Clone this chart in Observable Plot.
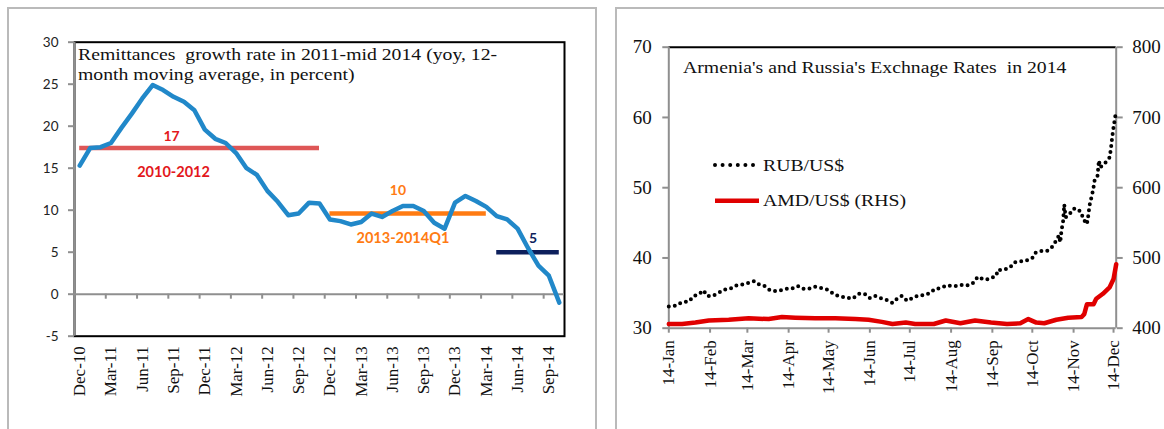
<!DOCTYPE html>
<html><head><meta charset="utf-8">
<script src="https://cdn.jsdelivr.net/npm/d3@7"></script>
<script src="https://cdn.jsdelivr.net/npm/@observablehq/plot@0.6"></script>
<style>
html,body{margin:0;padding:0;background:#fff;}
#root{position:relative;width:1164px;height:429px;overflow:hidden;background:#fff;}
.panel{position:absolute;box-sizing:border-box;border:2px solid #bababa;}
.chart{position:absolute;}
.chart svg{overflow:visible;background:transparent;}
.ttl{position:absolute;font-family:"Liberation Serif","Times New Roman",serif;font-size:17px;line-height:19.3px;color:#111;white-space:nowrap;transform:scaleX(1.16);transform-origin:0 0;}
.lg{position:absolute;}
</style></head>
<body><div id="root">
<div class="panel" style="left:7px;top:7px;width:590px;height:440px"></div>
<div class="panel" style="left:615px;top:7px;width:600px;height:440px"></div>
<div id="left" class="chart" style="left:8px;top:8px"></div>
<div id="right" class="chart" style="left:616px;top:8px"></div>
<div class="ttl" style="left:78px;top:45.3px">Remittances&nbsp; growth rate in 2011-mid 2014 (yoy, 12-<br>month moving average, in percent)</div>
<div class="ttl" style="left:683px;top:58px">Armenia's and Russia's Exchnage Rates&nbsp; in 2014</div>
<svg class="lg" style="left:710px;top:160px" width="50" height="10"><line x1="5" y1="5" x2="44" y2="5" stroke="#000" stroke-width="4" stroke-linecap="round" stroke-dasharray="0 7.6"/></svg>
<div class="ttl" style="left:763px;top:156.3px">RUB/US$</div>
<svg class="lg" style="left:710px;top:195px" width="54" height="12"><line x1="5" y1="5.7" x2="49" y2="5.7" stroke="#e00000" stroke-width="4.5"/></svg>
<div class="ttl" style="left:763px;top:191.3px">AMD/US$ (RHS)</div>
</div>
<script>
// ---------- Left chart data ----------
const months = ["Dec-10","Jan-11","Feb-11","Mar-11","Apr-11","May-11","Jun-11","Jul-11","Aug-11","Sep-11","Oct-11","Nov-11",
  "Dec-11","Jan-12","Feb-12","Mar-12","Apr-12","May-12","Jun-12","Jul-12","Aug-12","Sep-12","Oct-12","Nov-12",
  "Dec-12","Jan-13","Feb-13","Mar-13","Apr-13","May-13","Jun-13","Jul-13","Aug-13","Sep-13","Oct-13","Nov-13",
  "Dec-13","Jan-14","Feb-14","Mar-14","Apr-14","May-14","Jun-14","Jul-14","Aug-14","Sep-14","Oct-14"];
const remittances = [15.3,17.4,17.5,18.0,19.8,21.5,23.3,24.9,24.3,23.5,22.9,21.9,
  19.6,18.5,18.0,16.8,15.0,14.2,12.3,11.0,9.4,9.6,10.9,10.8,
  8.9,8.7,8.3,8.6,9.6,9.2,9.9,10.5,10.5,9.9,8.5,7.8,
  10.9,11.7,11.1,10.4,9.3,8.9,7.8,5.5,3.4,2.2,-1.0];
const periodValue = [17.4, 9.6, 5.0];
const periodLabel = ["17", "10", "5"];
const periodName = ["2010-2012", "2013-2014Q1", ""];
const periodStart = ["Dec-10", "Dec-12", "Apr-14"];
const periodEnd = ["Nov-12", "Mar-14", "Oct-14"];
const periodLabelAt = ["Sep-11", "Jul-13", "Jul-14"];
const leftYTicks = [-5, 0, 5, 10, 15, 20, 25, 30];

// ---------- Right chart data ----------
const rubDates = ["2014-01-01","2014-01-06","2014-01-11","2014-01-16","2014-01-20","2014-01-24","2014-01-27","2014-01-30",
  "2014-02-03","2014-02-08","2014-02-12","2014-02-16","2014-02-21","2014-02-25","2014-03-01","2014-03-06","2014-03-10",
  "2014-03-14","2014-03-18","2014-03-22","2014-03-26","2014-03-30","2014-04-03","2014-04-08","2014-04-12","2014-04-16",
  "2014-04-21","2014-04-26","2014-04-30","2014-05-04","2014-05-08","2014-05-13","2014-05-19","2014-05-24","2014-05-28",
  "2014-06-01","2014-06-05","2014-06-09","2014-06-14","2014-06-18","2014-06-22","2014-06-25","2014-06-29","2014-07-04",
  "2014-07-08","2014-07-12","2014-07-16","2014-07-20","2014-07-24","2014-07-29","2014-08-02","2014-08-06","2014-08-10",
  "2014-08-14","2014-08-18","2014-08-21","2014-08-26","2014-08-30","2014-09-04","2014-09-05","2014-09-09","2014-09-14",
  "2014-09-18","2014-09-22","2014-09-26","2014-10-01","2014-10-03","2014-10-08","2014-10-12","2014-10-16","2014-10-19",
  "2014-10-21","2014-10-22","2014-10-23","2014-10-24","2014-10-25","2014-10-26","2014-10-28","2014-11-01","2014-11-04",
  "2014-11-07","2014-11-08","2014-11-11","2014-11-12","2014-11-13","2014-11-15","2014-11-16","2014-11-17","2014-11-19",
  "2014-11-20","2014-11-21","2014-11-23","2014-11-25","2014-11-28","2014-11-29","2014-11-30","2014-12-01","2014-12-02","2014-12-03"];
const rubValues = [33.1,33.2,33.7,33.8,34.6,34.9,35.4,34.6,
  34.6,35.1,35.5,35.6,36.1,36.2,36.4,36.7,36.2,
  36.0,35.4,35.3,35.4,35.6,35.6,36.0,35.6,35.6,
  35.9,35.7,35.5,35.0,34.6,34.4,34.2,34.9,34.9,
  34.3,34.6,34.3,34.0,33.6,34.3,34.6,33.9,34.4,
  34.7,34.7,35.0,35.6,35.7,36.1,36.0,36.0,36.2,
  36.1,36.5,37.3,36.9,37.0,37.5,38.3,38.3,38.6,
  39.4,39.5,39.6,40.0,40.7,41.0,41.0,41.6,42.5,
  43.2,42.2,44.1,44.9,47.6,45.8,46.0,47.0,47.0,
  46.4,45.6,44.8,46.0,47.5,49.1,50.1,51.3,51.7,
  53.9,52.9,53.2,53.6,54.3,55.5,57.2,58.6,59.8,61.0];
const amdDates = ["2014-01-01","2014-01-11","2014-01-21","2014-01-31","2014-02-15","2014-03-02","2014-03-17","2014-03-27",
  "2014-04-06","2014-04-21","2014-05-06","2014-05-21","2014-05-31","2014-06-10","2014-06-18","2014-06-28","2014-07-05",
  "2014-07-19","2014-07-28","2014-08-08","2014-08-19","2014-08-31","2014-09-12","2014-09-22","2014-09-28","2014-10-04",
  "2014-10-10","2014-10-19","2014-10-28","2014-11-07","2014-11-09","2014-11-11","2014-11-16","2014-11-18","2014-11-23",
  "2014-11-28","2014-12-01","2014-12-03"];
const amdValues = [406,406,408,411,412,414,413,416,
  415,414,414,413,412,409,406,408,406,
  406,411,407,411,408,406,407,413,408,
  407,412,415,416,420,434,434,442,449,
  458,470,491];
const leftTicksR = [30, 40, 50, 60, 70];          // RUB/US$ axis
const rightTicksR = [400, 500, 600, 700, 800];    // AMD/US$ axis (RHS)

// ---------- Left chart ----------
const idx = m => months.indexOf(m);
const remitData = months.map((m, i) => ({i, v: remittances[i]}));
const periods = periodValue.map((v, k) => ({v, from: idx(periodStart[k]), to: idx(periodEnd[k]), at: idx(periodLabelAt[k]), label: periodLabel[k], name: periodName[k]}));
const lineColors = ["#de5656", "#ff7b12", "#0d1f5c"];
const textColors = ["#e3181c", "#ff7b12", "#0d1f5c"];
const labelDx = [-2, -5, 5];
const labelDy = [-11.5, -23, -13.5];
const nameDy = [24, 25, 0];
const labelIdx = months.map((m, i) => i).filter(i => i % 3 === 0);
const grey = "#8f8f8f";
const L = {width: 588, height: 421, mt: 33.7, mb: 93.3, ml: 66, mr: 32};
const yRange = leftYTicks[leftYTicks.length - 1] - leftYTicks[0];
const tickLen = 5 * yRange / (L.height - L.mt - L.mb);
const sans = "Lato, 'Open Sans', sans-serif";
const serif = "'Liberation Serif', 'Times New Roman', serif";

const left = Plot.plot({
  width: L.width, height: L.height,
  marginTop: L.mt, marginBottom: L.mb, marginLeft: L.ml, marginRight: L.mr,
  x: {type: "linear", domain: [-0.5, months.length - 0.5]},
  y: {domain: [leftYTicks[0], leftYTicks[leftYTicks.length - 1]]},
  marks: [
    Plot.frame({stroke: "#000", strokeWidth: 2}),
    Plot.ruleX([-0.5], {stroke: grey, strokeWidth: 2}),
    Plot.ruleY([0], {stroke: grey, strokeWidth: 2}),
    Plot.ruleX(labelIdx.slice(1).map(i => i - 0.5), {y1: 0, y2: -tickLen, stroke: grey, strokeWidth: 2}),
    Plot.axisY({ticks: leftYTicks, tickFormat: d => String(d), tickSize: 6, tickPadding: 10, stroke: grey, strokeWidth: 2, fill: "#222", fontSize: 13.5, fontFamily: sans, label: null}),
    Plot.axisX({ticks: labelIdx, tickFormat: i => months[i], tickSize: 0, tickPadding: 10, tickRotate: -90, fill: "#111", fontSize: 17, fontFamily: serif, label: null}),
    ...periods.map((p, k) => Plot.ruleY([p], {x1: "from", x2: "to", y: "v", stroke: lineColors[k], strokeWidth: 4.5})),
    Plot.line(remitData, {x: "i", y: "v", stroke: "#2188c9", strokeWidth: 4.5, strokeLinejoin: "round"}),
    ...periods.map((p, k) => Plot.text([p], {x: "at", y: "v", text: "label", dx: labelDx[k], dy: labelDy[k], fill: textColors[k], fontWeight: "bold", fontSize: 14, fontFamily: sans})),
    ...periods.map((p, k) => Plot.text([p], {x: "at", y: "v", text: "name", dy: nameDy[k], fill: textColors[k], fontWeight: "bold", fontSize: 14.5, fontFamily: sans}))
  ]
});
document.getElementById("left").appendChild(left);

// ---------- Right chart ----------
const parse = d3.utcParse("%Y-%m-%d");
const rub = rubDates.map((d, i) => ({date: parse(d), v: rubValues[i]}));
const toLeft = a => leftTicksR[0] + (a - rightTicksR[0]) * (leftTicksR[1] - leftTicksR[0]) / (rightTicksR[1] - rightTicksR[0]);
const toRight = l => rightTicksR[0] + (l - leftTicksR[0]) * (rightTicksR[1] - rightTicksR[0]) / (leftTicksR[1] - leftTicksR[0]);
const amd = amdDates.map((d, i) => ({date: parse(d), v: toLeft(amdValues[i])}));
const x0 = rub[0].date, x1 = rub[rub.length - 1].date;
const monthTicks = d3.utcMonths(x0, x1);
const right = Plot.plot({
  width: 548, height: 421,
  marginTop: 38.7, marginBottom: 101.3, marginLeft: 52.3, marginRight: 48.3,
  x: {type: "utc", domain: [x0, x1]},
  y: {domain: [leftTicksR[0], leftTicksR[leftTicksR.length - 1]]},
  marks: [
    Plot.ruleY([leftTicksR[leftTicksR.length - 1]], {stroke: "#000", strokeWidth: 2}),
    Plot.ruleY([leftTicksR[0]], {stroke: grey, strokeWidth: 2}),
    Plot.ruleX([x0, x1], {stroke: grey, strokeWidth: 2}),
    Plot.axisY({ticks: leftTicksR, anchor: "left", tickSize: 6, tickPadding: 11, stroke: grey, strokeWidth: 2, fill: "#111", fontSize: 19, fontFamily: serif, label: null}),
    Plot.axisY({ticks: leftTicksR, anchor: "right", tickFormat: d => toRight(d), tickSize: 6, tickPadding: 10, stroke: grey, strokeWidth: 2, fill: "#111", fontSize: 19, fontFamily: serif, label: null}),
    Plot.axisX({ticks: monthTicks, tickFormat: d3.utcFormat("%y-%b"), tickSize: 5, tickPadding: 7, tickRotate: -90, stroke: grey, strokeWidth: 2, fill: "#111", fontSize: 17, fontFamily: serif, label: null}),
    Plot.line(amd, {x: "date", y: "v", stroke: "#e00000", strokeWidth: 4.5, strokeLinejoin: "round"}),
    Plot.line(rub, {x: "date", y: "v", stroke: "#000", strokeWidth: 4, strokeLinecap: "round", strokeDasharray: "0 6"})
  ]
});
document.getElementById("right").appendChild(right);
</script>
</body></html>
